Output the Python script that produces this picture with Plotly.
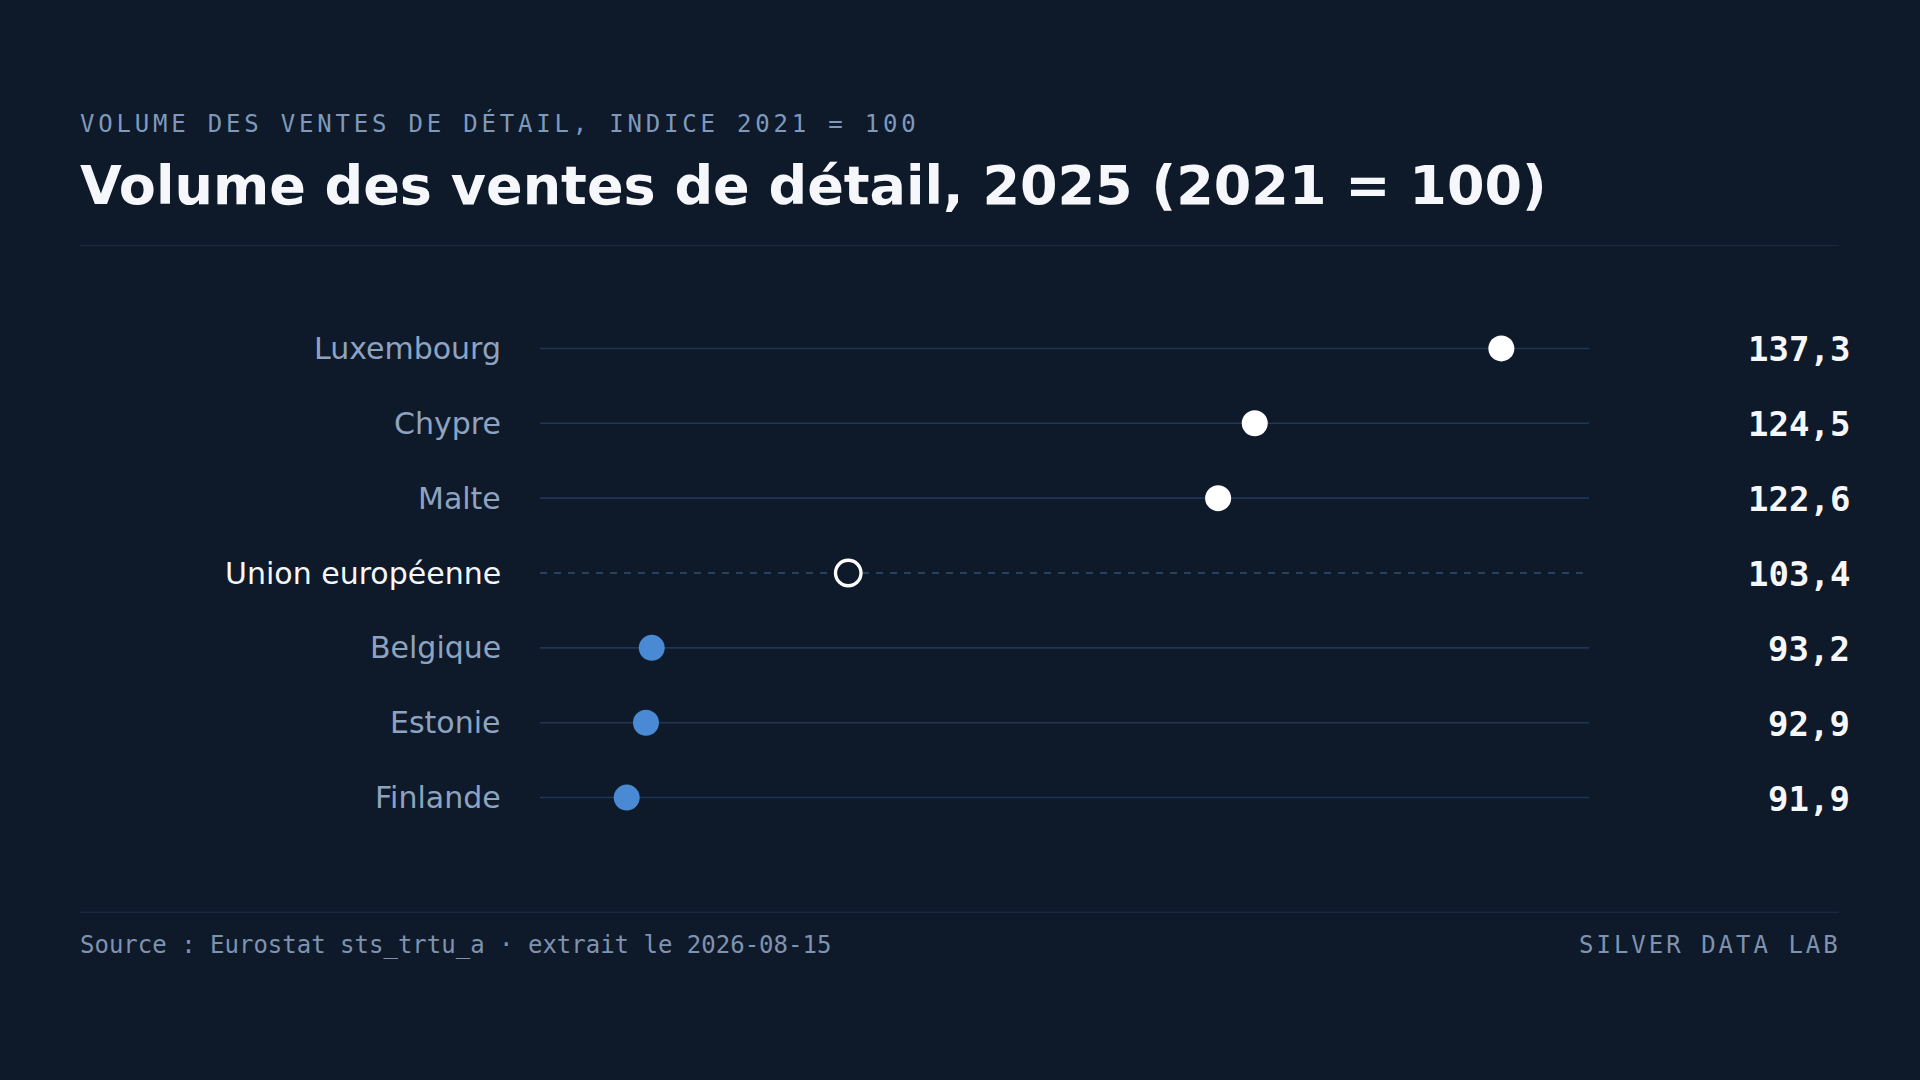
import plotly.graph_objects as go

# data
countries = ["Luxembourg", "Chypre", "Malte", "Union européenne", "Belgique", "Estonie", "Finlande"]
values = [137.3, 124.5, 122.6, 103.4, 93.2, 92.9, 91.9]
kinds = ["top", "top", "top", "eu", "low", "low", "low"]

subtitle = "VOLUME DES VENTES DE DÉTAIL, INDICE 2021 = 100"
title = "Volume des ventes de détail, 2025 (2021 = 100)"
source = "Source : Eurostat sts_trtu_a · extrait le 2026-08-15"
brand = "SILVER DATA LAB"

x_min, x_max = 87.4, 141.85

BG = "#0e1929"
WHITE = "#f5f7fa"
MUTED = "#8ea3c0"
BLUE = "#4a8ad4"
RULE = "#1f3655"

# plot area in page pixels
L, R, T, B = 540, 1589, 310.5, 835.5
W, H = R - L, B - T


def px_x(p):
    return (p - L) / W


def px_y(p):
    return (B - p) / H


fig = go.Figure()

# row guide lines
for c, k in zip(countries, kinds):
    fig.add_shape(type="line", xref="paper", yref="y", x0=0, x1=1, y0=c, y1=c,
                  line=dict(color="#2a3f5a" if k == "eu" else RULE, width=1.8 if k == "eu" else 1.6,
                            dash="7px,7px" if k == "eu" else "solid"),
                  layer="below")

for k, col in [("top", "#ffffff"), ("low", BLUE)]:
    xs = [v for v, kk in zip(values, kinds) if kk == k]
    ys = [c for c, kk in zip(countries, kinds) if kk == k]
    fig.add_trace(go.Scatter(x=xs, y=ys, mode="markers",
                             marker=dict(size=26, color=col, line=dict(width=0)),
                             hoverinfo="skip"))

xs = [v for v, kk in zip(values, kinds) if kk == "eu"]
ys = [c for c, kk in zip(countries, kinds) if kk == "eu"]
fig.add_trace(go.Scatter(x=xs, y=ys, mode="markers",
                         marker=dict(size=25.5, color=BG, line=dict(width=3.3, color="#ffffff")),
                         hoverinfo="skip"))

# labels and values
for c, v, k in zip(countries, values, kinds):
    fig.add_annotation(x=0, xref="paper", y=c, yref="y", text=c, showarrow=False,
                       xanchor="right", xshift=-37,
                       font=dict(family="DejaVu Sans", size=30, color=WHITE if k == "eu" else MUTED))
    fig.add_annotation(x=1, xref="paper", y=c, yref="y", text=f"{v:.1f}".replace(".", ","),
                       showarrow=False, xanchor="right", xshift=263, yshift=-1,
                       font=dict(family="DejaVu Sans Mono", size=34, color=WHITE, weight="bold"))

# header
fig.add_annotation(x=px_x(77.5), xref="paper", y=px_y(123), yref="paper", showarrow=False,
                   xanchor="left", yanchor="middle",
                   text=f'<span style="letter-spacing:3.8px">{subtitle}</span>',
                   font=dict(family="DejaVu Sans Mono", size=24, color="#7f99bc"))
fig.add_annotation(x=px_x(78), xref="paper", y=px_y(185), yref="paper", showarrow=False,
                   xanchor="left", yanchor="middle", text=title,
                   font=dict(family="DejaVu Sans", size=54, color=WHITE, weight="bold"))
fig.add_shape(type="line", xref="paper", yref="paper", x0=px_x(80), x1=px_x(1839),
              y0=px_y(245), y1=px_y(245), line=dict(color="#1a283b", width=1.5))

# footer
fig.add_shape(type="line", xref="paper", yref="paper", x0=px_x(80), x1=px_x(1839),
              y0=px_y(913), y1=px_y(913), line=dict(color="#1a283b", width=1.5))
fig.add_annotation(x=px_x(77.5), xref="paper", y=px_y(945.5), yref="paper", showarrow=False,
                   xanchor="left", yanchor="middle", text=source,
                   font=dict(family="DejaVu Sans Mono", size=24, color="#7f93b0"))
fig.add_annotation(x=px_x(1842.5), xref="paper", y=px_y(945.5), yref="paper", showarrow=False,
                   xanchor="right", yanchor="middle",
                   text=f'<span style="letter-spacing:3px">{brand}</span>',
                   font=dict(family="DejaVu Sans Mono", size=24, color="#7f93b0"))

fig.update_xaxes(range=[x_min, x_max], visible=False, fixedrange=True)
fig.update_yaxes(categoryorder="array", categoryarray=countries, range=[6.5, -0.5],
                 visible=False, fixedrange=True)
fig.update_layout(width=1920, height=1080, paper_bgcolor=BG, plot_bgcolor=BG,
                  showlegend=False, margin=dict(l=L, r=1920 - R, t=T, b=1080 - B))

fig.write_html("out.html", config={"displayModeBar": False},
               post_script="document.body.style.margin='0';document.body.style.overflow='hidden';")
